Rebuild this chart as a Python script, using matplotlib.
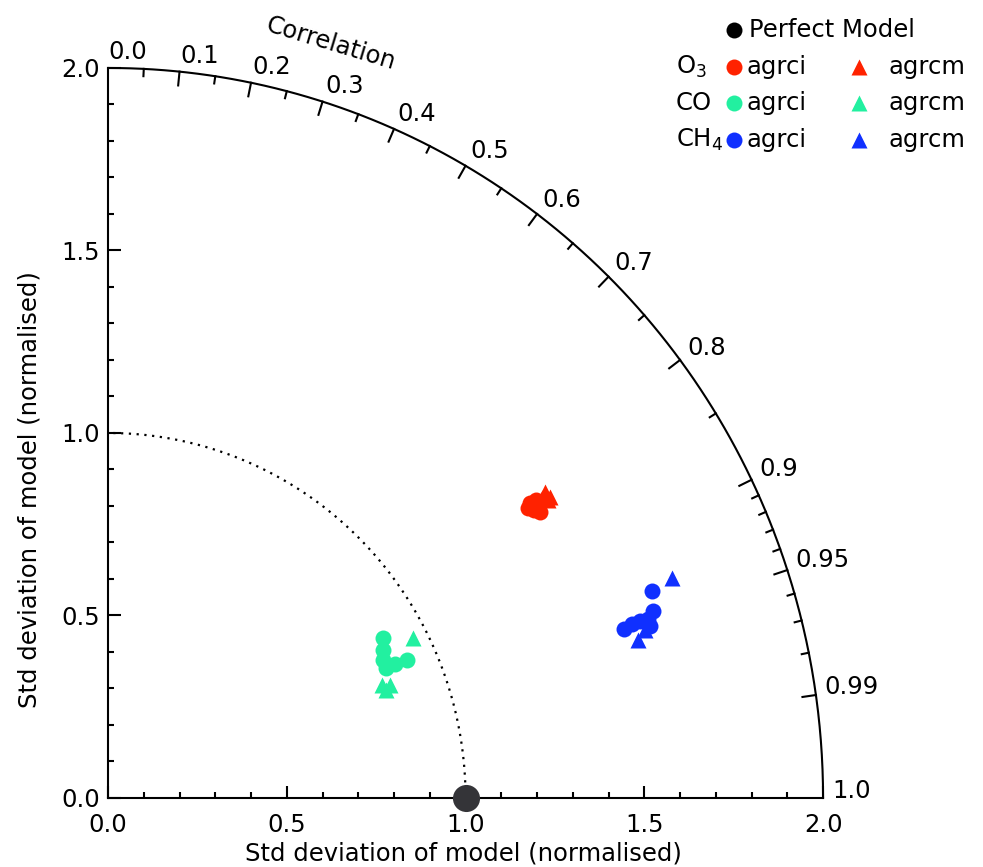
import numpy as np
import matplotlib
matplotlib.use("Agg")
import matplotlib.pyplot as plt
from matplotlib.ticker import MultipleLocator, FormatStrFormatter

# normalised std dev and correlation of each run
o3_ci_std = [1.430, 1.429, 1.445, 1.440, 1.449, 1.419]
o3_ci_cor = [0.825, 0.834, 0.833, 0.839, 0.826, 0.828]
o3_cm_std = [1.482, 1.486, 1.477, 1.466]
o3_cm_cor = [0.825, 0.832, 0.833, 0.828]

co_ci_std = [0.885, 0.869, 0.857, 0.856, 0.883, 0.917]
co_ci_cor = [0.869, 0.885, 0.897, 0.909, 0.909, 0.911]
co_cm_std = [0.959, 0.826, 0.848, 0.832]
co_cm_cor = [0.889, 0.927, 0.931, 0.935]

ch4_ci_std = [1.625, 1.516, 1.541, 1.564, 1.588, 1.607, 1.588]
ch4_ci_cor = [0.937, 0.952, 0.951, 0.951, 0.951, 0.948, 0.955]
ch4_cm_std = [1.690, 1.544, 1.571]
ch4_cm_cor = [0.934, 0.960, 0.956]

cor_major = [0.1, 0.2, 0.3, 0.4, 0.5, 0.6, 0.7, 0.8, 0.9, 0.95, 0.99]
cor_minor = [0.05, 0.15, 0.25, 0.35, 0.45, 0.55, 0.65, 0.75, 0.85,
             0.91, 0.92, 0.93, 0.94, 0.96, 0.97, 0.98]
cor_labels = ['0.0', '0.1', '0.2', '0.3', '0.4', '0.5', '0.6', '0.7', '0.8',
              '0.9', '0.95', '0.99', '1.0']

RED = '#ff2200'
GREEN = '#22f0a0'
BLUE = '#1030ff'
FS = 17.5
LW = 1.5
MS = 11.5


def to_xy(std, cor):
    std = np.asarray(std)
    cor = np.asarray(cor)
    return std * cor, std * np.sqrt(1 - cor ** 2)


fig = plt.figure(figsize=(9.83, 8.67), dpi=100)
ax = fig.add_axes([0.1099, 0.0796, 0.7274, 0.842])
ax.set_xlim(0, 2)
ax.set_ylim(0, 2)
ax.spines['top'].set_visible(False)
ax.spines['right'].set_visible(False)
ax.spines['left'].set_linewidth(LW)
ax.spines['bottom'].set_linewidth(LW)

ax.xaxis.set_major_locator(MultipleLocator(0.5))
ax.xaxis.set_minor_locator(MultipleLocator(0.1))
ax.yaxis.set_major_locator(MultipleLocator(0.5))
ax.yaxis.set_minor_locator(MultipleLocator(0.1))
ax.xaxis.set_major_formatter(FormatStrFormatter('%.1f'))
ax.yaxis.set_major_formatter(FormatStrFormatter('%.1f'))
ax.tick_params(which='major', direction='in', length=9, width=LW, labelsize=FS)
ax.tick_params(which='minor', direction='in', length=4.5, width=LW)
ax.tick_params(axis='x', which='major', pad=11)
ax.tick_params(axis='y', which='major', pad=6)

# outer arc (std = 2) and dotted reference arc (std = 1)
th = np.linspace(0, np.pi / 2, 400)
ax.plot(2 * np.cos(th), 2 * np.sin(th), color='black', lw=LW, clip_on=False)
ax.plot(np.cos(th), np.sin(th), color='black', lw=1.6, ls=(0, (1, 2.5)))

# correlation ticks on the arc
for c in cor_major + cor_minor:
    a = np.arccos(c)
    L = 0.038 if c in cor_major else 0.02
    ax.plot([2 * np.cos(a), (2 - L) * np.cos(a)], [2 * np.sin(a), (2 - L) * np.sin(a)],
            color='black', lw=LW, clip_on=False)
for lab in cor_labels:
    a = np.arccos(float(lab))
    ax.text(2.025 * np.cos(a), 2.025 * np.sin(a), lab,
            ha='left', va='baseline', fontsize=FS, clip_on=False)

a = np.radians(73.2)
ax.text(2.16 * np.cos(a), 2.16 * np.sin(a), 'Correlation', rotation=-16.8,
        rotation_mode='anchor', ha='center', va='center', fontsize=FS)

# data
for std, cor, col, mk in [(o3_ci_std, o3_ci_cor, RED, 'o'), (o3_cm_std, o3_cm_cor, RED, '^'),
                          (co_ci_std, co_ci_cor, GREEN, 'o'), (co_cm_std, co_cm_cor, GREEN, '^'),
                          (ch4_ci_std, ch4_ci_cor, BLUE, 'o'), (ch4_cm_std, ch4_cm_cor, BLUE, '^')]:
    x, y = to_xy(std, cor)
    ax.plot(x, y, mk, color=col, ms=MS, mec='none', ls='none')

# perfect model
ax.plot([1.0], [0.0], 'o', color='#343438', ms=19.5, mec='none', clip_on=False, zorder=10)

fig.text(463 / 983, 1 - 853 / 867, 'Std deviation of model (normalised)', ha='center', va='center', fontsize=FS)
fig.text(30 / 983, 1 - 490 / 867, 'Std deviation of model (normalised)', ha='center', va='center',
         rotation=90, fontsize=FS)

# legend drawn by hand
W, H = 983.0, 867.0
def fx(px): return px / W
def fy(py): return 1 - py / H

ax.plot([fx(734)], [fy(30)], 'o', color='black', ms=MS, mec='none', transform=fig.transFigure, clip_on=False)
fig.text(fx(749), fy(30), 'Perfect Model', ha='left', va='center', fontsize=FS)
rows = [('O$_3$', RED, 67), ('CO', GREEN, 103), ('CH$_4$', BLUE, 140)]
for name, col, py in rows:
    fig.text(fx(676), fy(py), name, ha='left', va='center', fontsize=FS)
    ax.plot([fx(734)], [fy(py)], 'o', color=col, ms=MS, mec='none', transform=fig.transFigure, clip_on=False)
    fig.text(fx(746), fy(py), 'agrci', ha='left', va='center', fontsize=FS)
    ax.plot([fx(859)], [fy(py)], '^', color=col, ms=MS, mec='none', transform=fig.transFigure, clip_on=False)
    fig.text(fx(888), fy(py), 'agrcm', ha='left', va='center', fontsize=FS)

fig.savefig('out.png', dpi=100)
